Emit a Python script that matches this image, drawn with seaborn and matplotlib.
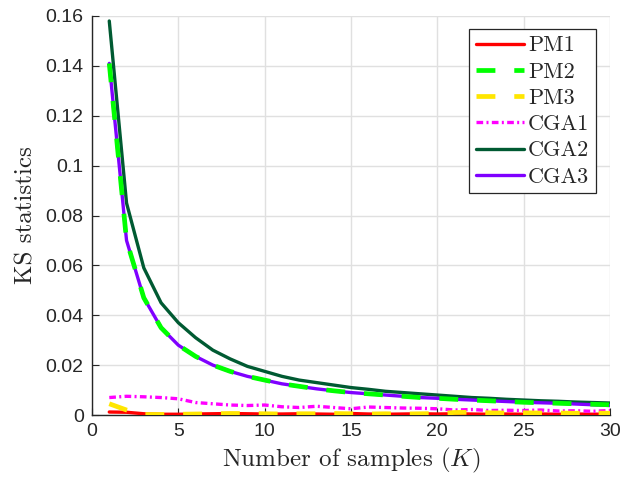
import numpy as np
import pandas as pd
import matplotlib
matplotlib.use("Agg")
import matplotlib.pyplot as plt
import seaborn as sns

K = list(range(1, 31))
pm1 = [0.0012, 0.0011, 0.0005, 0.0003, 0.0003, 0.0004, 0.0005, 0.0006, 0.0005, 0.0004,
       0.0004, 0.0005, 0.0004, 0.0003, 0.0006, 0.0004, 0.0003, 0.0004, 0.0005, 0.0004,
       0.0005, 0.0004, 0.0003, 0.0004, 0.0003, 0.0004, 0.0003, 0.0004, 0.0003, 0.0004]
pm2 = [0.141, 0.070, 0.047, 0.035, 0.028, 0.0235, 0.0200, 0.0175, 0.0155, 0.0140,
       0.0125, 0.0115, 0.0105, 0.0097, 0.0090, 0.0085, 0.0080, 0.0075, 0.0070, 0.0067,
       0.0063, 0.0060, 0.0057, 0.0054, 0.0051, 0.0049, 0.0047, 0.0045, 0.0043, 0.0041]
pm3 = [0.0045, 0.0020, 0.0002, 0.0002, 0.0003, 0.0004, 0.0005, 0.0006, 0.0006, 0.0005,
       0.0004, 0.0005, 0.0005, 0.0006, 0.0005, 0.0004, 0.0005, 0.0004, 0.0005, 0.0006,
       0.0010, 0.0011, 0.0009, 0.0008, 0.0009, 0.0008, 0.0008, 0.0007, 0.0008, 0.0007]
cga1 = [0.0070, 0.0075, 0.0073, 0.0070, 0.0065, 0.0050, 0.0045, 0.0040, 0.0038, 0.0040,
        0.0033, 0.0030, 0.0035, 0.0030, 0.0025, 0.0032, 0.0030, 0.0028, 0.0027, 0.0025,
        0.0020, 0.0022, 0.0018, 0.0019, 0.0018, 0.0020, 0.0016, 0.0017, 0.0015, 0.0018]
cga2 = [0.158, 0.085, 0.059, 0.045, 0.037, 0.031, 0.026, 0.0225, 0.0195, 0.0175,
        0.0155, 0.0140, 0.0130, 0.0120, 0.0110, 0.0103, 0.0095, 0.0090, 0.0085, 0.0080,
        0.0075, 0.0070, 0.0067, 0.0063, 0.0060, 0.0057, 0.0055, 0.0052, 0.0050, 0.0048]
cga3 = [0.141, 0.070, 0.047, 0.035, 0.028, 0.0235, 0.0200, 0.0175, 0.0155, 0.0140,
        0.0125, 0.0115, 0.0105, 0.0097, 0.0090, 0.0085, 0.0080, 0.0075, 0.0070, 0.0067,
        0.0063, 0.0060, 0.0057, 0.0054, 0.0051, 0.0049, 0.0047, 0.0044, 0.0041, 0.0038]

series = ["PM1", "PM2", "PM3", "CGA1", "CGA2", "CGA3"]
values = [pm1, pm2, pm3, cga1, cga2, cga3]
colors = ["#ff0000", "#00ff00", "#ffe600", "#ff00ff", "#005a32", "#7f00ff"]
styles = [dict(ls="-", lw=2.4, z=3),
          dict(ls=(0, (4.0, 4.0)), lw=3.4, z=6),
          dict(ls=(0, (4.0, 4.0)), lw=3.4, z=7),
          dict(ls=(0, (2.0, 1.0, 0.6, 1.0)), lw=2.4, z=4),
          dict(ls="-", lw=2.4, z=4),
          dict(ls="-", lw=2.4, z=5)]

sns.set_style("ticks")
plt.rcParams["mathtext.fontset"] = "cm"
plt.rcParams["axes.formatter.use_mathtext"] = True

fig = plt.figure(figsize=(6.36, 4.79), dpi=100)
ax = fig.add_axes([92 / 636, 1 - 415 / 479, (610 - 92) / 636, (415 - 16) / 479])

for name, v, c, st in zip(series, values, colors, styles):
    df = pd.DataFrame({"K": K, "v": v})
    sns.lineplot(data=df, x="K", y="v", ax=ax, color=c, linestyle=st["ls"],
                 linewidth=st["lw"], label=name, zorder=st["z"])

ax.set_xlim(0, 30)
ax.set_ylim(0, 0.16)
ax.set_xticks([0, 5, 10, 15, 20, 25, 30])
ax.set_yticks([0, 0.02, 0.04, 0.06, 0.08, 0.1, 0.12, 0.14, 0.16])
ax.set_xticklabels(["0", "5", "10", "15", "20", "25", "30"])
ax.set_yticklabels(["0", "0.02", "0.04", "0.06", "0.08", "0.1", "0.12", "0.14", "0.16"])
for lab in ax.get_xticklabels() + ax.get_yticklabels():
    lab.set_fontfamily("Liberation Sans")
    lab.set_fontsize(14)
    lab.set_color("#262626")
ax.tick_params(direction="in", length=5, width=0.8, color="#262626", pad=6,
               bottom=True, left=True, top=False, right=False)
ax.grid(True, color="#e0e0e0", linewidth=1)
ax.set_axisbelow(True)
for s in ["top", "right"]:
    ax.spines[s].set_visible(False)
for s in ["left", "bottom"]:
    ax.spines[s].set_color("#262626")
    ax.spines[s].set_linewidth(1)

ax.set_xlabel("Number of samples ($K$)", fontfamily="cmr10", fontsize=18, color="#262626", labelpad=4)
ax.set_ylabel("KS statistics", fontfamily="cmr10", fontsize=18, color="#262626", labelpad=6)

leg = ax.legend(loc="upper right", bbox_to_anchor=(0.973, 0.967), prop={"family": "cmr10", "size": 16},
                handlelength=2.15, handletextpad=0.2, labelspacing=0.3, borderpad=0.3,
                borderaxespad=0, fancybox=False, framealpha=1, edgecolor="#262626")
leg.get_frame().set_linewidth(0.9)

fig.savefig("out.png", dpi=100)
